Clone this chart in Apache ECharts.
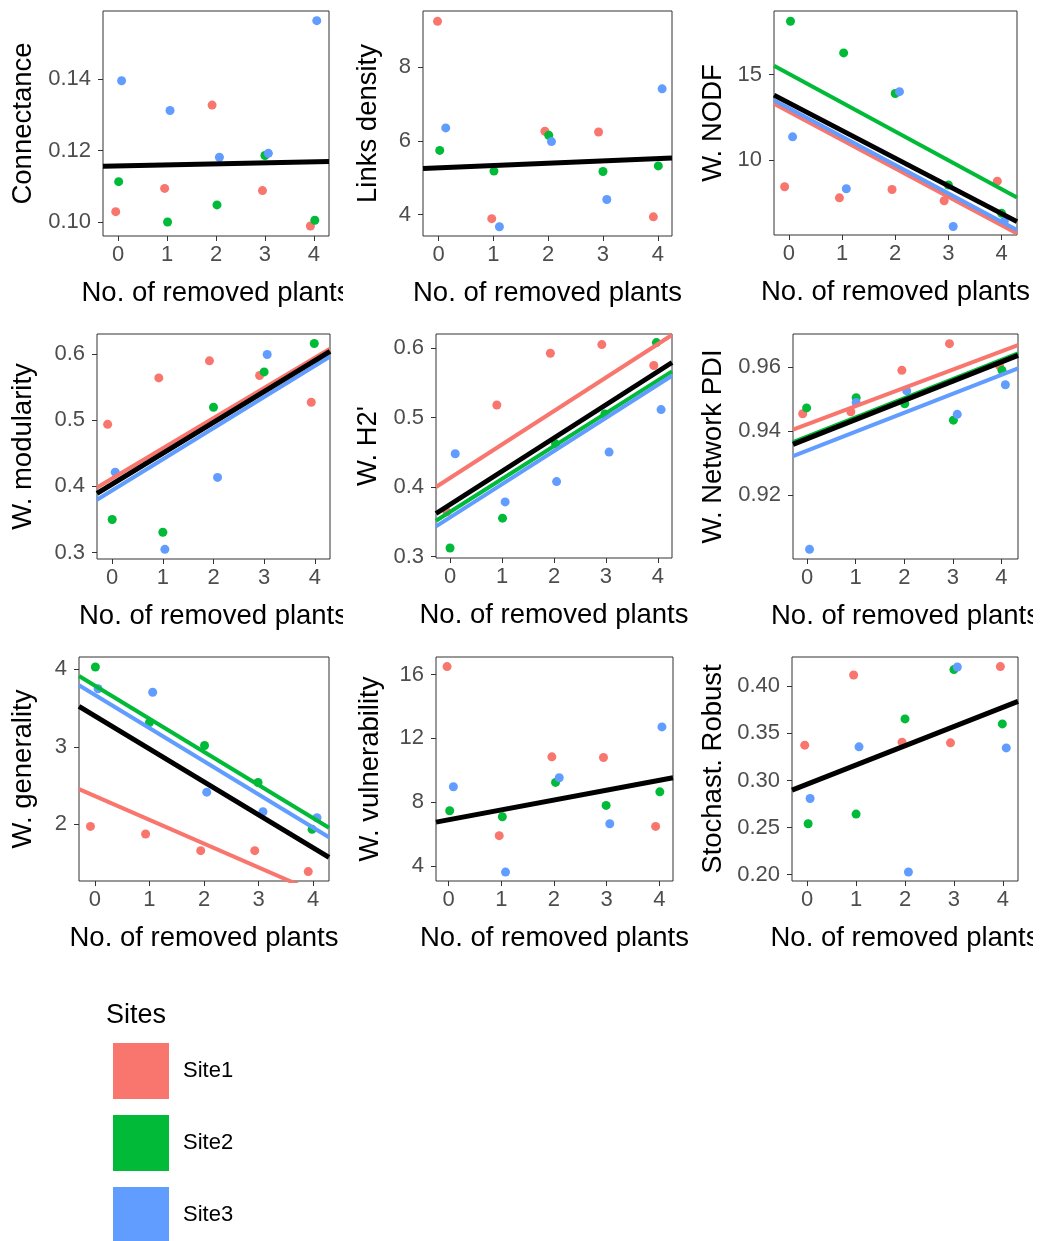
<!DOCTYPE html>
<html>
<head>
<meta charset="utf-8">
<title>Network metrics vs. removed plants</title>
<script src="https://cdn.jsdelivr.net/npm/echarts@6/dist/echarts.min.js"></script>
<style>
  html, body { margin: 0; padding: 0; background: #ffffff; }
  #chart { width: 1046px; height: 1241px; }
</style>
</head>
<body>
<div id="chart"></div>
<script>
// Sites and their colours
const sites = ['Site1', 'Site2', 'Site3'];
const siteColors = { Site1: '#F8766D', Site2: '#00BA38', Site3: '#619CFF' };

// x ticks: number of removed plants
const removedTicks = ['0', '1', '2', '3', '4'];

// Observations per metric: [jittered no. of removed plants, value]
const connectance = {
  Site1: [[-0.05, 0.1029], [0.95, 0.1094], [1.92, 0.1327], [2.95, 0.1088], [3.93, 0.0989]],
  Site2: [[0.01, 0.1113], [1.01, 0.1000], [2.02, 0.1048], [3.00, 0.1186], [4.02, 0.1005]],
  Site3: [[0.07, 0.1395], [1.06, 0.1312], [2.07, 0.1181], [3.07, 0.1192], [4.06, 0.1563]]
};
const linksDensity = {
  Site1: [[-0.02, 9.24], [0.97, 3.89], [1.94, 6.26], [2.92, 6.24], [3.92, 3.94]],
  Site2: [[0.02, 5.74], [1.01, 5.18], [2.01, 6.15], [3.00, 5.17], [4.01, 5.32]],
  Site3: [[0.13, 6.35], [1.11, 3.67], [2.06, 5.98], [3.07, 4.41], [4.08, 7.41]]
};
const nodf = {
  Site1: [[-0.08, 8.42], [0.95, 7.77], [1.94, 8.26], [2.92, 7.60], [3.92, 8.75]],
  Site2: [[0.03, 18.13], [1.03, 16.27], [2.00, 13.89], [3.00, 8.52], [4.00, 6.86]],
  Site3: [[0.07, 11.35], [1.08, 8.30], [2.08, 14.00], [3.09, 6.09], [4.05, 6.40]]
};
const modularity = {
  Site1: [[-0.09, 0.4936], [0.92, 0.5637], [1.92, 0.5895], [2.91, 0.5673], [3.93, 0.527]],
  Site2: [[0.00, 0.350], [1.00, 0.3308], [2.00, 0.5194], [3.00, 0.5728], [3.99, 0.6157]],
  Site3: [[0.06, 0.4215], [1.04, 0.305], [2.08, 0.4135], [3.06, 0.599], [4.05, 0.590]]
};
const h2 = {
  Site1: [[-0.06, 0.3645], [0.90, 0.5183], [1.93, 0.5929], [2.92, 0.6053], [3.92, 0.5752]],
  Site2: [[0.00, 0.3124], [1.01, 0.3554], [2.03, 0.4624], [2.98, 0.5054], [3.97, 0.6082]],
  Site3: [[0.10, 0.4481], [1.06, 0.3788], [2.05, 0.408], [3.06, 0.4505], [4.06, 0.5117]]
};
const pdi = {
  Site1: [[-0.09, 0.9454], [0.90, 0.9460], [1.95, 0.9589], [2.93, 0.9672], [3.96, 0.9603]],
  Site2: [[-0.01, 0.9472], [1.01, 0.9504], [2.01, 0.9485], [3.01, 0.9434], [4.01, 0.9589]],
  Site3: [[0.05, 0.9032], [1.01, 0.9489], [2.05, 0.9525], [3.09, 0.9452], [4.08, 0.9544]]
};
const generality = {
  Site1: [[-0.08, 1.974], [0.93, 1.876], [1.94, 1.661], [2.93, 1.661], [3.91, 1.391]],
  Site2: [[0.01, 4.03], [1.00, 3.313], [2.01, 3.017], [2.99, 2.54], [3.98, 1.936]],
  Site3: [[0.06, 3.75], [1.06, 3.704], [2.05, 2.416], [3.08, 2.163], [4.07, 2.086]]
};
const vulnerability = {
  Site1: [[-0.03, 16.5], [0.96, 5.90], [1.96, 10.84], [2.94, 10.80], [3.93, 6.48]],
  Site2: [[0.02, 7.46], [1.02, 7.09], [2.03, 9.24], [2.99, 7.80], [4.01, 8.65]],
  Site3: [[0.09, 8.97], [1.08, 3.62], [2.10, 9.53], [3.06, 6.65], [4.05, 12.72]]
};
const robustness = {
  Site1: [[-0.05, 0.3375], [0.95, 0.412], [1.94, 0.3407], [2.93, 0.340], [3.95, 0.4209]],
  Site2: [[0.02, 0.2541], [1.00, 0.2643], [2.00, 0.3654], [3.00, 0.4177], [3.99, 0.3601]],
  Site3: [[0.06, 0.2809], [1.06, 0.3357], [2.07, 0.2028], [3.07, 0.4205], [4.07, 0.3346]]
};

// Fitted lines: [intercept, slope]; "All" is the overall fit
const connectanceFit = { All: [0.1157, 0.00028] };
const linksDensityFit = { All: [5.27, 0.0615] };
const nodfFit = { Site1: [12.83, -1.667], Site2: [15.04, -1.689], Site3: [13.03, -1.667], All: [13.34, -1.624] };
const modularityFit = { Site1: [0.412, 0.0455], Site2: [0.4033, 0.0466], Site3: [0.394, 0.047], All: [0.4033, 0.0466] };
const h2Fit = { Site1: [0.4133, 0.0482], Site2: [0.3644, 0.0474], Site3: [0.3564, 0.0478], All: [0.3750, 0.0479] };
const pdiFit = { Site1: [0.9421, 0.00568], Site2: [0.9383, 0.00596], Site3: [0.9339, 0.0059], All: [0.9376, 0.00598] };
const generalityFit = { Site1: [2.366, -0.307], Site2: [3.79, -0.4273], Site3: [3.67, -0.428], All: [3.40, -0.4255] };
const vulnerabilityFit = { All: [6.90, 0.618] };
const robustnessFit = { All: [0.2961, 0.0204] };

// y tick labels per metric
const connectanceTicks = ['0.10', '0.12', '0.14'];
const linksDensityTicks = ['4', '6', '8'];
const nodfTicks = ['10', '15'];
const modularityTicks = ['0.3', '0.4', '0.5', '0.6'];
const h2Ticks = ['0.3', '0.4', '0.5', '0.6'];
const pdiTicks = ['0.92', '0.94', '0.96'];
const generalityTicks = ['2', '3', '4'];
const vulnerabilityTicks = ['4', '8', '12', '16'];
const robustnessTicks = ['0.20', '0.25', '0.30', '0.35', '0.40'];

const xTitle = 'No. of removed plants';

// Panel layout: box = [left, top, right, bottom] in px
const panels = [
  { title: 'Connectance', data: connectance, fit: connectanceFit, ticks: connectanceTicks,
    box: [103, 11, 329, 236], x: [-0.31, 4.31], y: [0.0961, 0.159], gap: 66 },
  { title: 'Links density', data: linksDensity, fit: linksDensityFit, ticks: linksDensityTicks,
    box: [423, 11, 672, 236], x: [-0.285, 4.26], y: [3.42, 9.52], gap: 41 },
  { title: 'W. NODF', data: nodf, fit: nodfFit, ticks: nodfTicks,
    box: [774, 11, 1017, 235], x: [-0.28, 4.29], y: [5.59, 18.73], gap: 47 },
  { title: 'W. modularity', data: modularity, fit: modularityFit, ticks: modularityTicks,
    box: [97, 334, 330, 559], x: [-0.30, 4.30], y: [0.2904, 0.630], gap: 60 },
  { title: "W. H2'", data: h2, fit: h2Fit, ticks: h2Ticks,
    box: [436, 334, 672, 558], x: [-0.27, 4.27], y: [0.298, 0.6206], gap: 54 },
  { title: 'W. Network PDI', data: pdi, fit: pdiFit, ticks: pdiTicks,
    box: [793, 334, 1018, 559], x: [-0.29, 4.34], y: [0.9002, 0.9702], gap: 66 },
  { title: 'W. generality', data: generality, fit: generalityFit, ticks: generalityTicks,
    box: [79, 657, 329, 881], x: [-0.29, 4.29], y: [1.270, 4.159], gap: 42 },
  { title: 'W. vulnerability', data: vulnerability, fit: vulnerabilityFit, ticks: vulnerabilityTicks,
    box: [436, 657, 673, 881], x: [-0.24, 4.26], y: [3.06, 17.1], gap: 52 },
  { title: 'Stochast. Robust', data: robustness, fit: robustnessFit, ticks: robustnessTicks,
    box: [792, 657, 1018, 881], x: [-0.31, 4.31], y: [0.1933, 0.4311], gap: 65 }
];

const FONT = "'Liberation Sans', Arial, Helvetica, sans-serif";
const TICK_COLOR = '#333333';
const LABEL_COLOR = '#4D4D4D';

const grids = [], xAxes = [], yAxes = [], series = [];

panels.forEach((p, i) => {
  const [l, t, r, b] = p.box;
  grids.push({
    left: l, top: t, width: r - l, height: b - t,
    show: true, borderColor: TICK_COLOR, borderWidth: 1, backgroundColor: '#ffffff'
  });

  const xVals = removedTicks.map(Number);
  xAxes.push({
    gridIndex: i, type: 'value', min: p.x[0], max: p.x[1], position: 'bottom',
    axisLine: { show: false, onZero: false }, splitLine: { show: false },
    axisTick: { show: true, inside: false, length: 5, lineStyle: { color: TICK_COLOR, width: 1 }, customValues: xVals },
    axisLabel: {
      customValues: xVals, margin: 8, color: LABEL_COLOR, fontSize: 22, fontFamily: FONT,
      formatter: v => removedTicks[xVals.indexOf(v)]
    },
    name: xTitle, nameLocation: 'middle', nameGap: 43,
    nameTextStyle: { fontSize: 27.5, color: '#000000', fontFamily: FONT }
  });

  const yVals = p.ticks.map(Number);
  yAxes.push({
    gridIndex: i, type: 'value', min: p.y[0], max: p.y[1], position: 'left',
    axisLine: { show: false, onZero: false }, splitLine: { show: false },
    axisTick: { show: true, inside: false, length: 5, lineStyle: { color: TICK_COLOR, width: 1 }, customValues: yVals },
    axisLabel: {
      customValues: yVals, margin: 12, color: LABEL_COLOR, fontSize: 22, fontFamily: FONT,
      formatter: v => p.ticks[yVals.indexOf(v)]
    },
    name: p.title, nameLocation: 'middle', nameGap: p.gap, nameRotate: 90,
    nameTextStyle: { fontSize: 27.5, color: '#000000', fontFamily: FONT }
  });

  // observed points
  sites.forEach(s => {
    series.push({
      type: 'scatter', name: s, xAxisIndex: i, yAxisIndex: i,
      data: p.data[s], symbolSize: 9, silent: true,
      itemStyle: { color: siteColors[s], opacity: 1 }
    });
  });

  // fitted lines, site fits first and the overall fit on top
  const fitLine = (coef) => p.x.map(xv => [xv, coef[0] + coef[1] * xv]);
  sites.forEach(s => {
    if (!p.fit[s]) return;
    series.push({
      type: 'line', name: s + ' fit', xAxisIndex: i, yAxisIndex: i,
      data: fitLine(p.fit[s]), showSymbol: false, silent: true, clip: true,
      lineStyle: { color: siteColors[s], width: 4 }
    });
  });
  series.push({
    type: 'line', name: 'Overall fit', xAxisIndex: i, yAxisIndex: i,
    data: fitLine(p.fit.All), showSymbol: false, silent: true, clip: true,
    lineStyle: { color: '#000000', width: 5 }
  });
});

// panel cell edges cut the wider axis titles
const cellEdges = [
  { x: 343, y: 265, w: 10, h: 45 },
  { x: 343, y: 590, w: 10, h: 45 },
  { x: 1033, y: 265, w: 13, h: 45 },
  { x: 1033, y: 590, w: 13, h: 45 },
  { x: 1033, y: 910, w: 13, h: 50 }
];

const chart = echarts.init(document.getElementById('chart'), null, { renderer: 'canvas' });
chart.setOption({
  animation: false,
  backgroundColor: '#ffffff',
  textStyle: { fontFamily: FONT },
  title: {
    text: 'Sites', left: 106, top: 1002, padding: 0,
    textStyle: { fontSize: 27, fontWeight: 'normal', color: '#000000', fontFamily: FONT }
  },
  legend: {
    data: sites, orient: 'vertical', left: 113, top: 1043, width: 200, height: 260, padding: 0,
    itemWidth: 56, itemHeight: 56, itemGap: 16, icon: 'rect', selectedMode: false,
    textStyle: { fontSize: 22, color: '#000000', fontFamily: FONT, padding: [0, 0, 0, 9] }
  },
  grid: grids,
  xAxis: xAxes,
  yAxis: yAxes,
  series: series,
  graphic: cellEdges.map(c => ({
    type: 'rect', z: 100, silent: true,
    shape: { x: c.x, y: c.y, width: c.w, height: c.h },
    style: { fill: '#ffffff' }
  }))
});
</script>
</body>
</html>
